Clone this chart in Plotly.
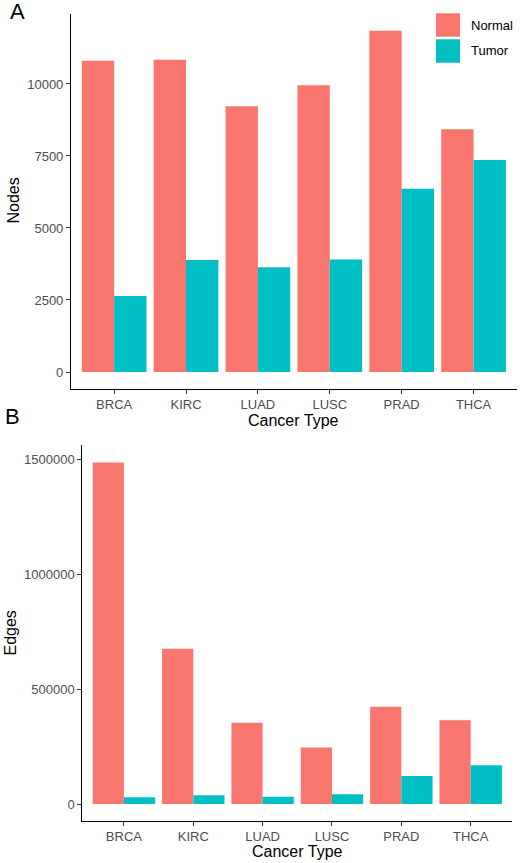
import plotly.graph_objects as go

# ---- data ----
cancer_types = ["BRCA", "KIRC", "LUAD", "LUSC", "PRAD", "THCA"]
nodes_normal = [10810, 10845, 9225, 9955, 11850, 8425]
nodes_tumor = [2640, 3890, 3635, 3910, 6365, 7360]
edges_normal = [1485000, 675000, 353000, 246000, 423000, 364000]
edges_tumor = [29000, 38000, 32000, 42000, 122000, 168000]
nodes_ticks = [0, 2500, 5000, 7500, 10000]
edges_ticks = [0, 500000, 1000000, 1500000]
series_names = ["Normal", "Tumor"]

C_NORMAL = "#F8766D"
C_TUMOR = "#00BFC4"
FONT = "Liberation Sans, Arial, Helvetica, sans-serif"
W, H = 520, 863

def px_x(p):
    return p / W

def px_y(p):
    return 1 - p / H

fig = go.Figure()
fig.add_trace(go.Bar(x=cancer_types, y=nodes_normal, name=series_names[0],
                     marker=dict(color=C_NORMAL, line=dict(width=0)),
                     xaxis="x", yaxis="y", showlegend=False))
fig.add_trace(go.Bar(x=cancer_types, y=nodes_tumor, name=series_names[1],
                     marker=dict(color=C_TUMOR, line=dict(width=0)),
                     xaxis="x", yaxis="y", showlegend=False))
fig.add_trace(go.Bar(x=cancer_types, y=edges_normal, name=series_names[0],
                     marker=dict(color=C_NORMAL, line=dict(width=0)),
                     xaxis="x2", yaxis="y2", showlegend=False))
fig.add_trace(go.Bar(x=cancer_types, y=edges_tumor, name=series_names[1],
                     marker=dict(color=C_TUMOR, line=dict(width=0)),
                     xaxis="x2", yaxis="y2", showlegend=False))

axis_common = dict(showline=True, linecolor="black", linewidth=1.1,
                   ticks="outside", ticklen=4, tickwidth=1, tickcolor="#333333",
                   showgrid=False, zeroline=False,
                   tickfont=dict(family=FONT, size=13, color="#4D4D4D"))

layout = dict(
    width=W, height=H,
    margin=dict(l=0, r=0, t=0, b=0),
    paper_bgcolor="white", plot_bgcolor="white",
    barmode="group", bargap=0.1, bargroupgap=0,
    showlegend=False,
    font=dict(family=FONT, color="black"),
    xaxis=dict(domain=[px_x(71), px_x(516.7)], anchor="y", type="category",
               range=[-0.6, 5.6], **axis_common),
    yaxis=dict(domain=[px_y(388.7), px_y(14)], anchor="x",
               range=[-580, 12430], tickmode="array",
               tickvals=nodes_ticks, ticktext=[str(v) for v in nodes_ticks],
               **axis_common),
    xaxis2=dict(domain=[px_x(82.3), px_x(512.3)], anchor="y2", type="category",
                range=[-0.6, 5.6], **axis_common),
    yaxis2=dict(domain=[px_y(820.7), px_y(445)], anchor="x2",
                range=[-72600, 1560870], tickmode="array",
                tickvals=edges_ticks, ticktext=[str(v) for v in edges_ticks],
                **axis_common),
)
fig.update_layout(**layout)

ann = []
def add_text(text, x, y, size, angle=0, xanchor="center", color="black"):
    ann.append(dict(text=text, x=px_x(x), y=px_y(y), xref="paper", yref="paper",
                    showarrow=False, textangle=angle, xanchor=xanchor,
                    yanchor="middle", font=dict(family=FONT, size=size, color=color)))

add_text("A", 17, 12, 22)
add_text("B", 12.5, 416.5, 22)
add_text("Nodes", 12.5, 201, 16, angle=-90)
add_text("Edges", 9.5, 633, 16, angle=-90)
add_text("Cancer Type", 293.8, 420, 16)
add_text("Cancer Type", 297.3, 851, 16)
add_text(series_names[0], 469, 25, 13, xanchor="left")
add_text(series_names[1], 469, 51, 13, xanchor="left")

shapes = [
    dict(type="rect", xref="paper", yref="paper",
         x0=px_x(436), x1=px_x(460), y0=px_y(36.7), y1=px_y(13.3),
         fillcolor=C_NORMAL, line=dict(width=0)),
    dict(type="rect", xref="paper", yref="paper",
         x0=px_x(436), x1=px_x(460), y0=px_y(62.7), y1=px_y(39.3),
         fillcolor=C_TUMOR, line=dict(width=0)),
]
fig.update_layout(annotations=ann, shapes=shapes)

fig.write_html("out.html",
               config={"displayModeBar": False},
               post_script="document.body.style.margin='0';"
                           "document.body.style.overflow='hidden';")
